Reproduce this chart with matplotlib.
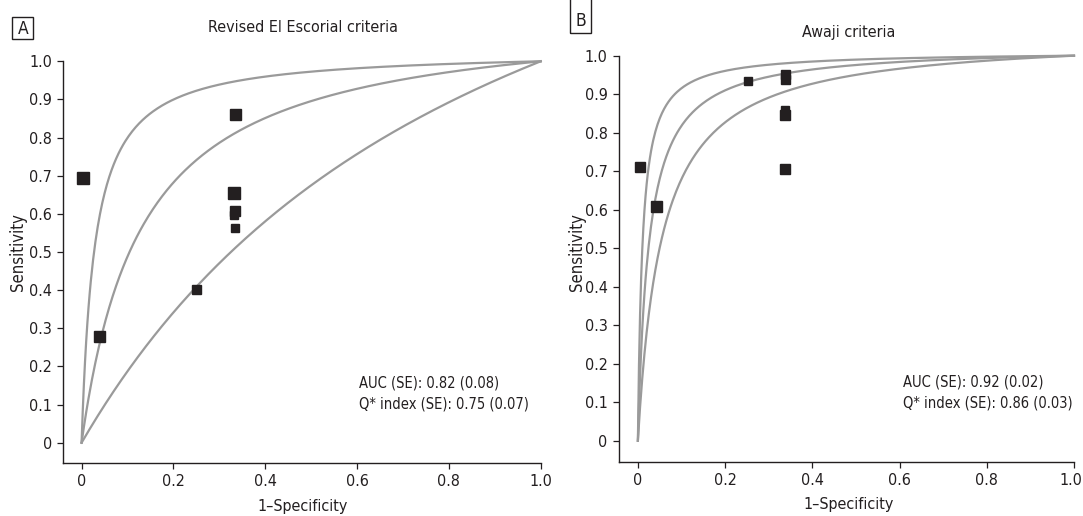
"""
SROC curves - Revised El Escorial vs Awaji criteria
"""

import numpy as np
import matplotlib
matplotlib.use("Agg")
import matplotlib.pyplot as plt
import matplotlib.transforms as mtransforms
from matplotlib.patches import Rectangle
from matplotlib import font_manager

# pick the narrowest sans available (the original uses a condensed face)
FONT = None
for key in ["LiberationSansNarrow-Regular", "DejaVuSansCondensed.ttf", "Roboto-Regular"]:
    for f in font_manager.fontManager.ttflist:
        if key in f.fname:
            FONT = f.fname
            break
    if FONT:
        break
FP = font_manager.FontProperties(fname=FONT) if FONT else font_manager.FontProperties(family="Liberation Sans")

# ── Data ────────────────────────────────────────────────────────────────────
# Panel A: Revised El Escorial criteria
a_fpr = [0.004, 0.334, 0.332, 0.335, 0.333, 0.334, 0.250, 0.038]
a_sens = [0.693, 0.862, 0.656, 0.608, 0.596, 0.563, 0.402, 0.280]
a_weight = [12, 11, 12.5, 10, 8, 8.5, 9, 11]          # marker side, px
a_logdor = [0.73, 2.15, 3.58]                           # lower / pooled / upper SROC
a_stats = ["AUC (SE): 0.82 (0.08)", "Q* index (SE): 0.75 (0.07)"]

# Panel B: Awaji criteria
b_fpr = [0.005, 0.042, 0.253, 0.337, 0.337, 0.337, 0.337, 0.337]
b_sens = [0.710, 0.610, 0.933, 0.952, 0.940, 0.860, 0.847, 0.706]
b_weight = [10, 11, 8.5, 9, 9, 8, 10, 9.5]
b_logdor = [2.95, 3.70, 4.58]
b_stats = ["AUC (SE): 0.92 (0.02)", "Q* index (SE): 0.86 (0.03)"]

xticks = [0, 0.2, 0.4, 0.6, 0.8, 1.0]
xticklabels = ["0", "0.2", "0.4", "0.6", "0.8", "1.0"]
yticks = [0, 0.1, 0.2, 0.3, 0.4, 0.5, 0.6, 0.7, 0.8, 0.9, 1.0]
yticklabels = ["0", "0.1", "0.2", "0.3", "0.4", "0.5", "0.6", "0.7", "0.8", "0.9", "1.0"]

# ── Style ──────────────────────────────────────────────────────────────────
W, H = 1083, 516
INK = "#231f20"
CURVE = "#9a9a9a"


def fx(px):
    return px / W


def fy(py):
    return 1 - py / H


def fp(size):
    p = FP.copy()
    p.set_size(size)
    return p


def sroc(logdor, fpr):
    odds = np.exp(logdor)
    return fpr * odds / (1 - fpr + fpr * odds)


fig = plt.figure(figsize=(W / 100, H / 100), dpi=100)
fig.patch.set_facecolor("white")


def draw_panel(rect, fpr, sens, weight, logdor, stats, stat_xy, xlim_lo, ylim_lo):
    ax = fig.add_axes(rect)
    grid = np.linspace(0, 1, 400)
    for d in logdor:
        ax.plot(grid, sroc(d, grid), color=CURVE, lw=1.6, clip_on=False, zorder=2)
    for x, y, w in zip(fpr, sens, weight):
        ax.plot(x, y, marker="s", ms=w * 0.72, color=INK, mec=INK, ls="none", zorder=3)

    ax.set_xlim(xlim_lo, 1.0)
    ax.set_ylim(ylim_lo, 1.0)
    ax.set_xticks(xticks)
    ax.set_xticklabels(xticklabels)
    ax.set_yticks(yticks)
    ax.set_yticklabels(yticklabels)
    for lbl in ax.get_xticklabels() + ax.get_yticklabels():
        lbl.set_fontproperties(fp(11.5))
    for side in ["top", "right"]:
        ax.spines[side].set_visible(False)
    for side in ["left", "bottom"]:
        ax.spines[side].set_color(INK)
        ax.spines[side].set_linewidth(1.0)
    ax.tick_params(colors=INK, length=4, width=0.9, pad=4)

    ax.text(stat_xy[0], stat_xy[1], stats[0], color=INK, fontproperties=fp(10.5),
            ha="left", va="center")
    ax.text(stat_xy[0], stat_xy[1] - 0.055, stats[1], color=INK, fontproperties=fp(10.5),
            ha="left", va="center")
    return ax


# Panel A
axA = draw_panel([fx(63), fy(462.7), fx(540.7 - 63), (462.7 - 61.3) / H],
                 a_fpr, a_sens, a_weight, a_logdor, a_stats, (0.604, 0.157),
                 -0.0405, -0.0524)
# Panel B
axB = draw_panel([fx(618.7), fy(462.3), fx(1074 - 618.7), (462.3 - 55.7) / H],
                 b_fpr, b_sens, b_weight, b_logdor, b_stats, (0.608, 0.153),
                 -0.044, -0.056)

# keep the last x label of panel B inside the canvas
last = axB.get_xticklabels()[-1]
last.set_transform(last.get_transform() +
                   mtransforms.ScaledTranslation(-3 / 100, 0, fig.dpi_scale_trans))

# Titles and axis labels
fig.text(fx(303), fy(27), "Revised El Escorial criteria", color=INK,
         fontproperties=fp(11.5), ha="center", va="center")
fig.text(fx(849), fy(33), "Awaji criteria", color=INK,
         fontproperties=fp(11.5), ha="center", va="center")
fig.text(fx(303), fy(506), "1\u2013Specificity", color=INK,
         fontproperties=fp(11.5), ha="center", va="center")
fig.text(fx(849), fy(505), "1\u2013Specificity", color=INK,
         fontproperties=fp(11.5), ha="center", va="center")
fig.text(fx(17.5), fy(252), "Sensitivity", color=INK, fontproperties=fp(12),
         ha="center", va="center", rotation=90)
fig.text(fx(577), fy(252), "Sensitivity", color=INK, fontproperties=fp(12),
         ha="center", va="center", rotation=90)

# Panel letters in boxes
fig.patches.append(Rectangle((fx(12.3), fy(39.3)), fx(21), (39.3 - 16.7) / H,
                             transform=fig.transFigure, fill=False,
                             ec=INK, lw=1.0))
fig.text(fx(22.8), fy(28.5), "A", color=INK, fontproperties=fp(12.5),
         ha="center", va="center")
fig.patches.append(Rectangle((fx(570.3), fy(33)), fx(20.7), 40 / H,
                             transform=fig.transFigure, fill=False,
                             ec=INK, lw=1.0, clip_on=False))
fig.text(fx(580.7), fy(21), "B", color=INK, fontproperties=fp(12.5),
         ha="center", va="center")

fig.savefig("out.png", dpi=100, facecolor="white")
